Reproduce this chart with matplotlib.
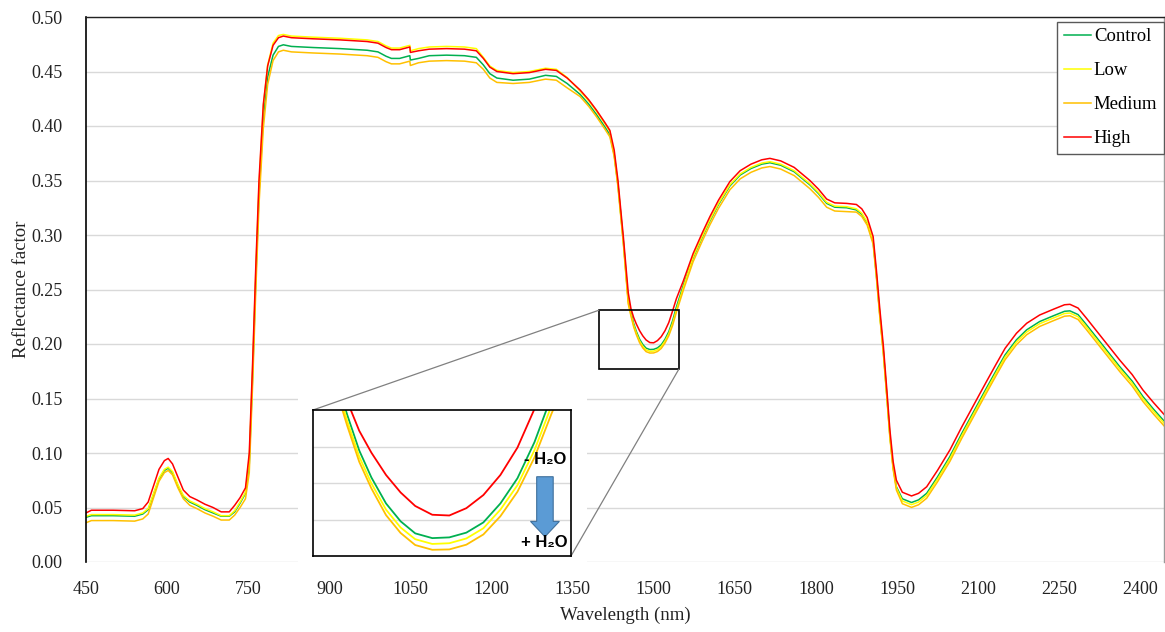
import matplotlib
matplotlib.use("Agg")
import matplotlib.pyplot as plt
from matplotlib.patches import Rectangle, FancyArrow, ConnectionPatch

# ---------------- data ----------------
wavelength = [450, 460, 500, 540, 555, 565, 575, 585, 595, 602,
              610, 620, 630, 642, 655, 670, 685, 700, 715, 725,
              735, 745, 752, 758, 764, 770, 778, 786, 796, 806,
              815, 830, 870, 920, 970, 990, 1005, 1015, 1030, 1049,
              1050, 1065, 1085, 1117, 1150, 1172, 1185, 1197, 1210, 1240,
              1270, 1300, 1320, 1340, 1364, 1380, 1394, 1410, 1419, 1427,
              1434, 1444, 1453, 1458, 1463, 1468, 1474, 1480, 1486, 1493,
              1500, 1507, 1514, 1521, 1528, 1535, 1542, 1555, 1573, 1590,
              1604, 1620, 1641, 1660, 1680, 1700, 1715, 1735, 1760, 1789,
              1805, 1820, 1835, 1857, 1875, 1885, 1895, 1906, 1912, 1918,
              1925, 1931, 1937, 1943, 1949, 1960, 1977, 1990, 2005, 2025,
              2048, 2070, 2097, 2115, 2134, 2150, 2171, 2190, 2214, 2240,
              2260, 2270, 2285, 2300, 2313, 2340, 2362, 2385, 2405, 2425,
              2445]

control = [0.041, 0.0425, 0.0425, 0.042, 0.044, 0.048, 0.062, 0.076, 0.084, 0.086,
           0.082, 0.070, 0.060, 0.055, 0.052, 0.048, 0.045, 0.042, 0.042, 0.046,
           0.054, 0.063, 0.090, 0.168, 0.258, 0.338, 0.408, 0.445, 0.465, 0.473,
           0.4745, 0.473, 0.472, 0.471, 0.4695, 0.468, 0.464, 0.462, 0.462, 0.4645,
           0.4605, 0.462, 0.4645, 0.465, 0.4645, 0.463, 0.456, 0.448, 0.444, 0.442,
           0.443, 0.4465, 0.4455, 0.439, 0.429, 0.420, 0.4107, 0.399, 0.392, 0.374,
           0.346, 0.294, 0.240, 0.2288, 0.2189, 0.2115, 0.2044, 0.1995, 0.1962, 0.1949,
           0.1951, 0.1964, 0.1992, 0.2044, 0.2113, 0.2212, 0.2338, 0.254, 0.279, 0.298,
           0.3128, 0.328, 0.345, 0.355, 0.361, 0.365, 0.3663, 0.364, 0.358, 0.346,
           0.338, 0.329, 0.3255, 0.325, 0.323, 0.319, 0.311, 0.2935, 0.263, 0.229,
           0.1926, 0.155, 0.116, 0.087, 0.069, 0.058, 0.0546, 0.057, 0.063, 0.078,
           0.0968, 0.118, 0.1426, 0.159, 0.176, 0.190, 0.2038, 0.213, 0.2206, 0.226,
           0.230, 0.2304, 0.227, 0.218, 0.2099, 0.193, 0.1793, 0.166, 0.1518, 0.140,
           0.1289]

low = [0.042, 0.0435, 0.0435, 0.043, 0.045, 0.049, 0.063, 0.077, 0.085, 0.087,
       0.083, 0.071, 0.061, 0.056, 0.053, 0.049, 0.046, 0.0425, 0.0425, 0.047,
       0.055, 0.064, 0.095, 0.175, 0.265, 0.345, 0.418, 0.456, 0.476, 0.483,
       0.484, 0.4825, 0.4815, 0.4805, 0.479, 0.4775, 0.4735, 0.4715, 0.4715, 0.474,
       0.469, 0.471, 0.4725, 0.473, 0.4725, 0.471, 0.463, 0.455, 0.451, 0.449,
       0.450, 0.453, 0.452, 0.4445, 0.432, 0.423, 0.4137, 0.402, 0.395, 0.374,
       0.346, 0.293, 0.2383, 0.2271, 0.2172, 0.2099, 0.2027, 0.1978, 0.1946, 0.1933,
       0.1935, 0.1948, 0.1976, 0.2027, 0.2094, 0.2190, 0.2312, 0.252, 0.280, 0.299,
       0.3138, 0.329, 0.346, 0.356, 0.362, 0.366, 0.3673, 0.365, 0.359, 0.347,
       0.339, 0.330, 0.3265, 0.326, 0.324, 0.320, 0.312, 0.2945, 0.264, 0.228,
       0.1916, 0.154, 0.115, 0.086, 0.068, 0.056, 0.0526, 0.055, 0.061, 0.076,
       0.0948, 0.116, 0.1406, 0.157, 0.174, 0.188, 0.2018, 0.211, 0.2186, 0.224,
       0.228, 0.2284, 0.225, 0.216, 0.2079, 0.191, 0.1773, 0.164, 0.1498, 0.138,
       0.1269]

medium = [0.036, 0.038, 0.038, 0.0375, 0.0395, 0.044, 0.059, 0.074, 0.082, 0.084,
          0.080, 0.068, 0.058, 0.052, 0.049, 0.045, 0.042, 0.0385, 0.0385, 0.043,
          0.050, 0.058, 0.082, 0.160, 0.248, 0.328, 0.398, 0.438, 0.460, 0.468,
          0.4695, 0.468, 0.467, 0.466, 0.4645, 0.463, 0.459, 0.457, 0.457, 0.4595,
          0.4555, 0.458, 0.4595, 0.460, 0.4595, 0.458, 0.452, 0.444, 0.440, 0.439,
          0.440, 0.443, 0.442, 0.435, 0.427, 0.418, 0.4087, 0.397, 0.390, 0.372,
          0.344, 0.292, 0.2368, 0.2258, 0.2158, 0.2085, 0.2012, 0.1963, 0.1930, 0.1917,
          0.1918, 0.1931, 0.1959, 0.2009, 0.2076, 0.2170, 0.2290, 0.2495, 0.2755, 0.2945,
          0.3093, 0.3245, 0.3415, 0.3515, 0.3575, 0.3615, 0.3628, 0.3605, 0.3545, 0.3425,
          0.3345, 0.3255, 0.322, 0.3215, 0.321, 0.317, 0.309, 0.2915, 0.261, 0.227,
          0.1906, 0.153, 0.114, 0.085, 0.066, 0.0535, 0.0501, 0.0525, 0.0585, 0.0735,
          0.0923, 0.1135, 0.1381, 0.1545, 0.1715, 0.1855, 0.1993, 0.2085, 0.2161, 0.2215,
          0.2255, 0.2259, 0.2225, 0.2135, 0.2054, 0.1885, 0.1748, 0.1615, 0.1473, 0.1355,
          0.1244]

high = [0.045, 0.0475, 0.0475, 0.047, 0.049, 0.055, 0.070, 0.085, 0.093, 0.095,
        0.090, 0.078, 0.066, 0.060, 0.057, 0.053, 0.050, 0.046, 0.046, 0.052,
        0.059, 0.068, 0.100, 0.180, 0.270, 0.350, 0.420, 0.455, 0.474, 0.481,
        0.4825, 0.481, 0.480, 0.479, 0.4775, 0.476, 0.472, 0.470, 0.470, 0.4725,
        0.4675, 0.469, 0.4705, 0.471, 0.4705, 0.469, 0.462, 0.454, 0.450, 0.448,
        0.449, 0.452, 0.451, 0.444, 0.433, 0.424, 0.4147, 0.403, 0.396, 0.378,
        0.350, 0.298, 0.247, 0.2325, 0.2243, 0.2183, 0.2122, 0.2074, 0.2037, 0.2013,
        0.2011, 0.2031, 0.2067, 0.2122, 0.2197, 0.2303, 0.2415, 0.258, 0.283, 0.302,
        0.3168, 0.332, 0.349, 0.359, 0.365, 0.369, 0.3703, 0.368, 0.362, 0.350,
        0.342, 0.333, 0.3295, 0.329, 0.328, 0.324, 0.316, 0.2985, 0.268, 0.234,
        0.1976, 0.160, 0.121, 0.092, 0.075, 0.064, 0.0606, 0.063, 0.069, 0.084,
        0.1028, 0.124, 0.1486, 0.165, 0.182, 0.196, 0.2098, 0.219, 0.2266, 0.232,
        0.236, 0.2364, 0.233, 0.224, 0.2159, 0.199, 0.1853, 0.172, 0.1578, 0.146,
        0.1349]

series_names = ["Control", "Low", "Medium", "High"]
x_ticks = [450, 600, 750, 900, 1050, 1200, 1350, 1500, 1650, 1800, 1950, 2100, 2250, 2400]
y_ticks = [0.00, 0.05, 0.10, 0.15, 0.20, 0.25, 0.30, 0.35, 0.40, 0.45, 0.50]
inset_y_ticks = [0.20, 0.21, 0.22]

# ---------------- styling ----------------
colors = ["#00B050", "#FFFF00", "#FFC000", "#FF0000"]
SERIF = ["Liberation Serif", "DejaVu Serif"]
SANS = ["Liberation Sans", "DejaVu Sans"]
plt.rcParams["font.family"] = SERIF

W, H = 1165, 632
fig = plt.figure(figsize=(W / 100, H / 100), dpi=100)

def px_rect(x0, y0, x1, y1):
    return [x0 / W, 1 - y1 / H, (x1 - x0) / W, (y1 - y0) / H]

ax = fig.add_axes(px_rect(86, 17, 1164, 562))
ax.set_zorder(0)

all_series = [control, low, medium, high]
for vals, name, c in zip(all_series, series_names, colors):
    ax.plot(wavelength, vals, color=c, lw=1.1, label=name, solid_joinstyle="round")

ax.set_xlim(450, 2444)
ax.set_ylim(0, 0.50)
ax.set_xticks(x_ticks)
ax.set_yticks(y_ticks)
ax.set_yticklabels([f"{v:.2f}" for v in y_ticks])
ax.tick_params(axis="both", length=0, labelsize=13, colors="#222222")
ax.tick_params(axis="x", pad=14)
ax.tick_params(axis="y", pad=17)
ax.grid(axis="y", color="#d9d9d9", lw=1.0)
ax.set_axisbelow(True)
ax.spines["left"].set_color("#000000")
ax.spines["left"].set_linewidth(1.2)
ax.spines["top"].set_color("#222222")
ax.spines["top"].set_linewidth(1.0)
ax.spines["right"].set_color("#9a9a9a")
ax.spines["right"].set_linewidth(1.0)
ax.spines["bottom"].set_visible(False)

ax.set_xlabel("Wavelength (nm)", fontsize=13.5, color="#222222")
ax.set_ylabel("Reflectance factor", fontsize=13.5, color="#222222")
ax.xaxis.set_label_coords(0.5, -0.098)
ax.xaxis.label.set_va("center")
ax.yaxis.set_label_coords(-0.060, 0.5)
ax.yaxis.label.set_va("center")

leg = ax.legend(loc="upper right", bbox_to_anchor=(1.0, 0.9914), borderaxespad=0,
                fontsize=13.5, frameon=True, fancybox=False, framealpha=1,
                edgecolor="#595959", handlelength=1.45, handletextpad=0.15,
                labelspacing=0.9, borderpad=0.35)
leg.get_frame().set_linewidth(1.0)

# zoom rectangle in main plot
rx0, rx1, ry0, ry1 = 1398.8, 1546.7, 0.177, 0.231
ax.add_patch(Rectangle((rx0, ry0), rx1 - rx0, ry1 - ry0, fill=False,
                       ec="#000000", lw=1.2, zorder=5))

# white background behind inset
bg = Rectangle((298 / W, 1 - 572 / H), (587 - 298) / W, (572 - 395) / H,
               transform=fig.transFigure, facecolor="white", edgecolor="none", zorder=0.5)
fig.patches.append(bg)

# inset
ins = fig.add_axes(px_rect(313, 410, 571, 556))
ins.set_zorder(2)
for vals, c in zip(all_series, colors):
    ins.plot(wavelength, vals, color=c, lw=1.3, solid_joinstyle="round")
ins.set_xlim(1444, 1550)
ins.set_ylim(0.19, 0.23)
ins.set_yticks(inset_y_ticks)
ins.set_xticks([])
ins.tick_params(axis="y", length=0, labelleft=False)
ins.grid(axis="y", color="#d9d9d9", lw=1.0)
ins.set_axisbelow(True)
for s in ins.spines.values():
    s.set_color("#000000")
    s.set_linewidth(1.2)

ins.add_patch(FancyArrow(0.899, 0.543, 0, -(0.543 - 0.132), width=0.064,
                         head_width=0.112, head_length=0.105, length_includes_head=True,
                         transform=ins.transAxes, facecolor="#5B9BD5",
                         edgecolor="#41719C", lw=0.8, zorder=6))
ins.text(0.899, 0.66, "- H\u2082O", transform=ins.transAxes, ha="center", va="center",
         fontsize=12, fontweight="bold", family=SANS, zorder=7)
ins.text(0.895, 0.09, "+ H\u2082O", transform=ins.transAxes, ha="center", va="center",
         fontsize=12, fontweight="bold", family=SANS, zorder=7)

# connector lines
for (xa, ya), (xb, yb) in [((rx0, ry1), (0, 1)), ((rx1, ry0), (1, 0))]:
    cp = ConnectionPatch(xyA=(xa, ya), coordsA=ax.transData,
                         xyB=(xb, yb), coordsB=ins.transAxes,
                         color="#808080", lw=0.9, zorder=1.5)
    fig.add_artist(cp)

fig.savefig("out.png", dpi=100)
